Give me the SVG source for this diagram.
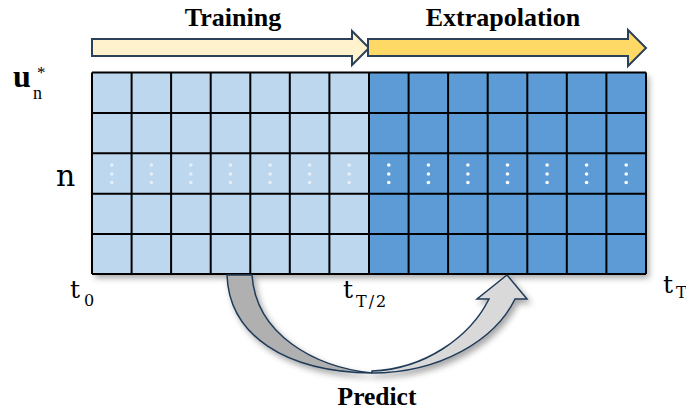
<svg xmlns="http://www.w3.org/2000/svg" width="686" height="413" viewBox="0 0 686 413">
<defs>
<style>
.lbl{font-family:"Liberation Serif","Times New Roman",serif;font-weight:bold;fill:#000}
.math{font-family:"DejaVu Serif",serif;fill:#000}
.arr{stroke:#2b4158;stroke-width:2;stroke-linejoin:miter}
.grid{stroke:#000;stroke-width:2;fill:none}
.dl{fill:#e6eef8}
.dd{fill:#ffffff}
.curve{stroke:#1f3a58;stroke-width:1.5;stroke-linejoin:miter}
</style>
<filter id="sh" x="-10%" y="-10%" width="120%" height="130%">
<feDropShadow dx="3" dy="4" stdDeviation="3" flood-color="#000" flood-opacity="0.35"/>
</filter>
</defs>
<rect width="686" height="413" fill="#fff"/>

<g id="training-arrow">
<polygon class="arr" fill="#fff2cc" points="92,39 352,39 352,31 369,48 352,65 352,56 92,56"/>
<text class="lbl" x="233" y="26" font-size="26" text-anchor="middle">Training</text>
</g>
<g id="extrapolation-arrow">
<polygon class="arr" fill="#ffd966" points="368,39 628,39 628,30 646,48 628,66 628,56 368,56"/>
<text class="lbl" x="503" y="26" font-size="26" text-anchor="middle">Extrapolation</text>
</g>

<g id="grid">
<g filter="url(#sh)">
<rect x="92" y="72.5" width="277" height="201.5" fill="#bdd7ee"/>
<rect x="369" y="72.5" width="277" height="201.5" fill="#5b9bd5"/>
</g>
<path class="grid" d="M92,72.5H646M92,113H646M92,153.3H646M92,193.7H646M92,234H646M92,274H646M92,72.5V274M131.6,72.5V274M171.1,72.5V274M210.7,72.5V274M250.3,72.5V274M289.8,72.5V274M329.4,72.5V274M369,72.5V274M408.6,72.5V274M448.1,72.5V274M487.7,72.5V274M527.3,72.5V274M566.8,72.5V274M606.4,72.5V274M646,72.5V274"/>
<g class="dl">
<circle cx="111.8" cy="165" r="1.8"/><circle cx="111.8" cy="174" r="1.8"/><circle cx="111.8" cy="182.5" r="1.8"/>
<circle cx="151.4" cy="165" r="1.8"/><circle cx="151.4" cy="174" r="1.8"/><circle cx="151.4" cy="182.5" r="1.8"/>
<circle cx="190.9" cy="165" r="1.8"/><circle cx="190.9" cy="174" r="1.8"/><circle cx="190.9" cy="182.5" r="1.8"/>
<circle cx="230.5" cy="165" r="1.8"/><circle cx="230.5" cy="174" r="1.8"/><circle cx="230.5" cy="182.5" r="1.8"/>
<circle cx="270.1" cy="165" r="1.8"/><circle cx="270.1" cy="174" r="1.8"/><circle cx="270.1" cy="182.5" r="1.8"/>
<circle cx="309.6" cy="165" r="1.8"/><circle cx="309.6" cy="174" r="1.8"/><circle cx="309.6" cy="182.5" r="1.8"/>
<circle cx="349.2" cy="165" r="1.8"/><circle cx="349.2" cy="174" r="1.8"/><circle cx="349.2" cy="182.5" r="1.8"/>
</g>
<g class="dd">
<circle cx="388.8" cy="165" r="1.8"/><circle cx="388.8" cy="174" r="1.8"/><circle cx="388.8" cy="182.5" r="1.8"/>
<circle cx="428.4" cy="165" r="1.8"/><circle cx="428.4" cy="174" r="1.8"/><circle cx="428.4" cy="182.5" r="1.8"/>
<circle cx="467.9" cy="165" r="1.8"/><circle cx="467.9" cy="174" r="1.8"/><circle cx="467.9" cy="182.5" r="1.8"/>
<circle cx="507.5" cy="165" r="1.8"/><circle cx="507.5" cy="174" r="1.8"/><circle cx="507.5" cy="182.5" r="1.8"/>
<circle cx="547.1" cy="165" r="1.8"/><circle cx="547.1" cy="174" r="1.8"/><circle cx="547.1" cy="182.5" r="1.8"/>
<circle cx="586.6" cy="165" r="1.8"/><circle cx="586.6" cy="174" r="1.8"/><circle cx="586.6" cy="182.5" r="1.8"/>
<circle cx="626.2" cy="165" r="1.8"/><circle cx="626.2" cy="174" r="1.8"/><circle cx="626.2" cy="182.5" r="1.8"/>
</g>
</g>

<g id="labels">
<text x="13" y="87" font-family="Liberation Serif, serif" font-weight="bold" font-size="32">u</text>
<text x="33" y="99" font-family="Liberation Serif, serif" font-size="18">n</text>
<text x="37" y="78" font-family="Liberation Serif, serif" font-size="17">*</text>
<text class="math" x="56" y="186" font-size="30">n</text>
<text class="math" x="70" y="298" font-size="25">t</text>
<text class="math" x="84" y="306" font-size="16">0</text>
<text class="math" x="343" y="298" font-size="25">t</text>
<text class="math" x="356" y="307" font-size="16" letter-spacing="2">T/2</text>
<text class="math" x="663" y="293" font-size="25">t</text>
<text class="math" x="676" y="298" font-size="16">T</text>
</g>

<g id="connectors">
<g filter="url(#sh)">
<path class="curve" fill="#b0b0b0" d="M227,275 C229,335 285,372 372,373 C315,367 256,335 252,275 Z"/>
<path class="curve" fill="#d9d9d9" d="M372,373 C440,373 495,340 515,299 L527,299 L507,275 L477,299 L489,299 C470,337 425,369 372,371 Z"/>
</g>
<text class="lbl" x="377" y="405" font-size="25.5" text-anchor="middle">Predict</text>
</g>
</svg>
